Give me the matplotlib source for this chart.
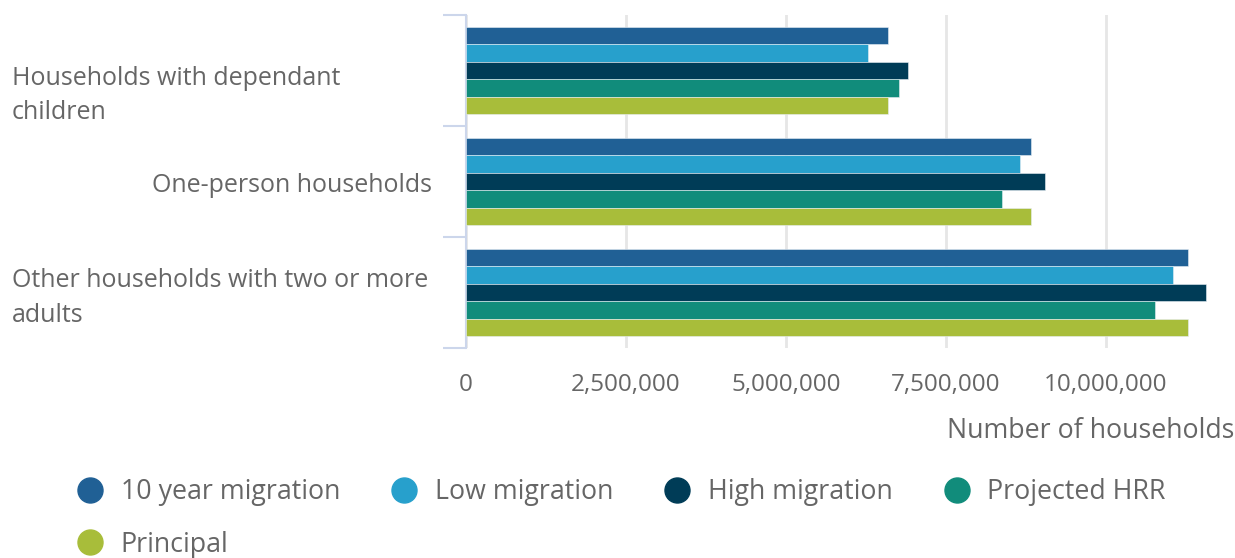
import numpy as np
import matplotlib.pyplot as plt
from matplotlib.lines import Line2D
from matplotlib.ticker import FuncFormatter
import matplotlib.transforms as mtransforms

plt.rcParams['font.family'] = ['Open Sans', 'DejaVu Sans']

categories = ['Households with dependant\nchildren',
              'One-person households',
              'Other households with two or more\nadults']
series_names = ['10 year migration', 'Low migration', 'High migration',
                'Projected HRR', 'Principal']
ten_year = [6590000, 8830000, 11280000]
low_mig = [6280000, 8660000, 11050000]
high_mig = [6910000, 9050000, 11560000]
hrr = [6770000, 8380000, 10770000]
principal = [6590000, 8830000, 11280000]
x_ticks = [0, 2500000, 5000000, 7500000, 10000000]

colors = ['#206095', '#27A0CC', '#003C57', '#118C7B', '#A8BD3A']
values = [ten_year, low_mig, high_mig, hrr, principal]

grey = '#666666'
axis_col = '#ccd6eb'

fig = plt.figure(figsize=(12.35, 5.58), dpi=100)
W, H = 1235, 558
ax = fig.add_axes([466 / W, 1 - 348 / H, (1234 - 466) / W, (348 - 15) / H])

y = np.arange(len(categories))
bar_h = 0.157
for i, (name, vals, c) in enumerate(zip(series_names, values, colors)):
    offs = (i - 2) * bar_h
    ax.barh(y + offs, vals, height=bar_h, color=c, edgecolor='#e8eef5',
            linewidth=0.4, zorder=3, label=name)

ax.set_ylim(2.5, -0.5)
ax.set_xlim(0, 12000000)

ax.set_xticks(x_ticks)
ax.xaxis.set_major_formatter(FuncFormatter(lambda v, p: f'{int(v):,}'))
ax.tick_params(axis='x', length=0, pad=18, labelsize=17.5, labelcolor=grey)
ax.grid(axis='x', color='#e6e6e6', linewidth=2, zorder=0)
ax.set_axisbelow(True)

ax.set_yticks([])
ax.set_yticks([-0.5, 0.5, 1.5, 2.5], minor=True)
ax.tick_params(axis='y', which='minor', length=16.5, width=1.5, color=axis_col)

for s in ['top', 'right', 'bottom']:
    ax.spines[s].set_visible(False)
ax.spines['left'].set_color(axis_col)
ax.spines['left'].set_linewidth(1.5)

# category labels
trans = mtransforms.blended_transform_factory(fig.transFigure, ax.transData)
ax.text(12 / W, 0.225, categories[0], transform=trans, ha='left', va='center',
        fontsize=18, color=grey, linespacing=1.5)
ax.text(432 / W, 1.035, categories[1], transform=trans, ha='right', va='center',
        fontsize=18, color=grey)
ax.text(12 / W, 2.05, categories[2], transform=trans, ha='left', va='center',
        fontsize=18, color=grey, linespacing=1.5)

ax.set_xlabel('Number of households', loc='right', fontsize=19.3, color=grey,
              labelpad=14.5)

# legend filled row by row (matplotlib fills columns first)
order = [0, 4, 1, 2, 3]
handles = [Line2D([], [], marker='o', linestyle='none', markersize=18,
                  markerfacecolor=colors[k], markeredgecolor=colors[k])
           for k in order]
fig.legend(handles, [series_names[k] for k in order], loc='upper left',
           bbox_to_anchor=(77 / W, 1 - 478 / H), ncol=4, frameon=False,
           fontsize=19.3, labelcolor=grey, handlelength=1.0, handletextpad=0.63,
           columnspacing=1.9, borderpad=0, borderaxespad=0, labelspacing=0.92)

fig.savefig('out.png', dpi=100)
